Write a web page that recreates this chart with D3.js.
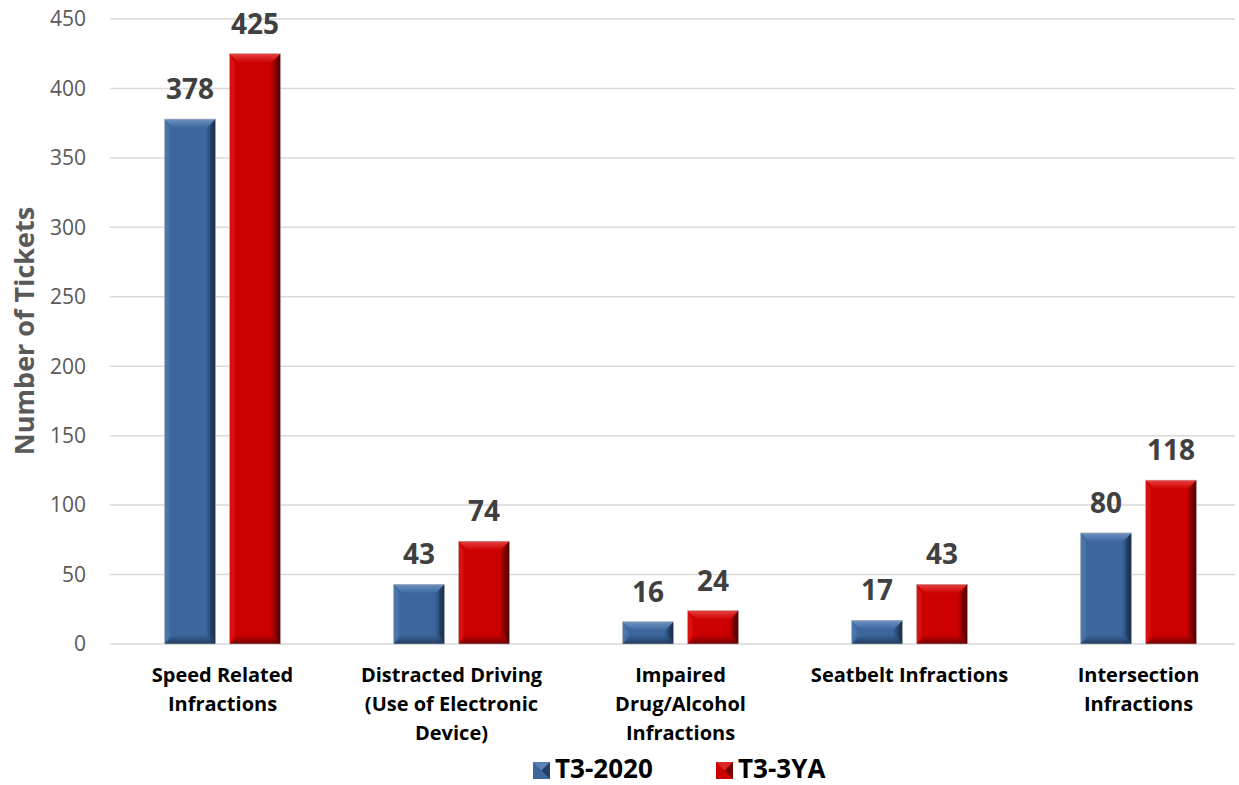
<!DOCTYPE html>
<html><head><meta charset="utf-8">
<script src="https://cdn.jsdelivr.net/npm/d3@7"></script>
<style>body{margin:0;background:#fff}svg{display:block}text{font-family:"Open Sans","Noto Sans",sans-serif}</style>
</head><body><svg id="c" width="1239" height="785"></svg>
<script>
const categories = [["Speed Related","Infractions"],["Distracted Driving","(Use of Electronic","Device)"],["Impaired","Drug/Alcohol","Infractions"],["Seatbelt Infractions"],["Intersection","Infractions"]];
const seriesNames = ["T3-2020","T3-3YA"];
const t3_2020 = [378,43,16,17,80];
const t3_3ya = [425,74,24,43,118];
const yTicks = [0,50,100,150,200,250,300,350,400,450];
const colors = ["#3C679D","#CC0000"];
const darks = ["#1B3150","#5A0000"];
const lights = ["#6F93C2","#E84040"];

const svg = d3.select("#c");
const m = {l:110,r:1235,t:19,b:644};
const x = d3.scaleBand().domain(d3.range(categories.length)).range([108,1253]);
const y = d3.scaleLinear().domain([0,450]).range([m.b,m.t]);
const defs = svg.append("defs");
colors.forEach((c,i)=>{
  const g = defs.append("linearGradient").attr("id","g"+i).attr("x1",0).attr("x2",1).attr("y1",0).attr("y2",0);
  g.append("stop").attr("offset",0).attr("stop-color",d3.color(c).brighter(0.2));
  g.append("stop").attr("offset",0.15).attr("stop-color",c);
  g.append("stop").attr("offset",0.8).attr("stop-color",c);
  g.append("stop").attr("offset",1).attr("stop-color",darks[i]);
  const t = defs.append("linearGradient").attr("id","t"+i).attr("x1",0).attr("x2",0).attr("y1",0).attr("y2",1);
  t.append("stop").attr("offset",0).attr("stop-color",lights[i]);
  t.append("stop").attr("offset",1).attr("stop-color",c);
  const b = defs.append("linearGradient").attr("id","b"+i).attr("x1",0).attr("x2",0).attr("y1",0).attr("y2",1);
  b.append("stop").attr("offset",0).attr("stop-color",c);
  b.append("stop").attr("offset",1).attr("stop-color",darks[i]);
});

// grid
svg.append("g").selectAll("line").data(yTicks).join("line")
  .attr("x1",m.l).attr("x2",m.r).attr("y1",d=>y(d)).attr("y2",d=>y(d))
  .attr("stroke","#d9d9d9").attr("stroke-width",1.5);
// y labels
svg.append("g").selectAll("text").data(yTicks).join("text")
  .attr("x",86).attr("y",d=>y(d)).attr("dy","0.35em").attr("text-anchor","end")
  .attr("font-size",21).attr("fill","#595959").text(d=>d);
svg.append("text").attr("transform","translate(25,331) rotate(-90)").attr("text-anchor","middle")
  .attr("dy","0.35em").attr("font-size",27).attr("font-weight","bold").attr("fill","#595959").text("Number of Tickets");

const bw = 51, gap = 14;
const data = [t3_2020,t3_3ya];
function bar(g,x0,v,i){
  const x1 = x0+bw, yt = y(v), yb = y(0), h = yb-yt;
  const bv = Math.min(9, h/2), sv = 5;
  g.append("rect").attr("x",x0).attr("y",yt).attr("width",bw).attr("height",h).attr("fill","url(#g"+i+")");
  g.append("path").attr("d",`M${x1-sv},${yt+bv}L${x1},${yt}L${x1},${yb}L${x1-sv},${yb-bv}Z`).attr("fill",darks[i]).attr("opacity",0.55);
  g.append("path").attr("d",`M${x0},${yt}L${x0+sv},${yt+bv}L${x0+sv},${yb-bv}L${x0},${yb}Z`).attr("fill",lights[i]).attr("opacity",0.25);
  g.append("path").attr("d",`M${x0},${yt}L${x1},${yt}L${x1-bv},${yt+bv}L${x0+bv},${yt+bv}Z`).attr("fill","url(#t"+i+")");
  g.append("path").attr("d",`M${x0+bv},${yb-bv}L${x1-bv},${yb-bv}L${x1},${yb}L${x0},${yb}Z`).attr("fill","url(#b"+i+")").attr("opacity",0.8);
  g.append("rect").attr("x",x0).attr("y",yt).attr("width",bw).attr("height",h).attr("fill","none").attr("stroke","#bfbfbf").attr("stroke-width",0.6);
}
categories.forEach((c,ci)=>{
  const cx = x(ci)+x.bandwidth()/2;
  data.forEach((s,si)=>{
    const x0 = si===0 ? cx-gap/2-bw : cx+gap/2;
    bar(svg.append("g"),x0,s[ci],si);
    svg.append("text").attr("x",x0+bw/2).attr("y",y(s[ci])-20).attr("text-anchor","middle")
      .attr("font-size",28).attr("font-weight","bold").attr("fill","#404040").text(s[ci]);
  });
  const t = svg.append("text").attr("text-anchor","middle").attr("font-size",20).attr("font-weight","bold").attr("fill","#000");
  c.forEach((ln,li)=>t.append("tspan").attr("x",cx).attr("y",682+li*29).text(ln));
});

// legend
const leg = [[533,555],[716,738]];
seriesNames.forEach((n,i)=>{
  const g = svg.append("g");
  const sx = leg[i][0], sy = 762, s = 17;
  g.append("rect").attr("x",sx).attr("y",sy).attr("width",s).attr("height",s).attr("fill",colors[i]);
  g.append("path").attr("d",`M${sx},${sy}L${sx+s},${sy}L${sx+s/2},${sy+s/2}Z`).attr("fill",lights[i]).attr("opacity",0.6);
  g.append("path").attr("d",`M${sx+s},${sy}L${sx+s},${sy+s}L${sx+s/2},${sy+s/2}Z`).attr("fill",darks[i]).attr("opacity",0.7);
  g.append("text").attr("x",leg[i][1]).attr("y",778).attr("font-size",26).attr("font-weight","bold").attr("fill","#000").text(n);
});
</script></body></html>
